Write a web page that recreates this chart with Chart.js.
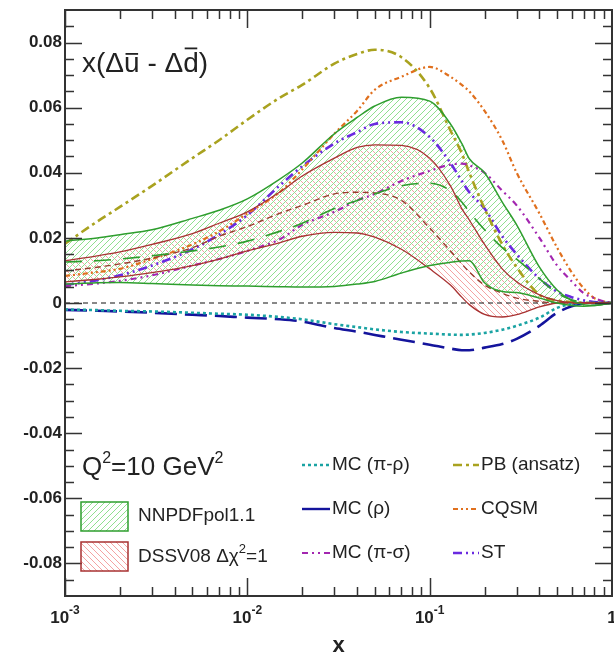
<!DOCTYPE html>
<html><head><meta charset="utf-8">
<script src="https://cdn.jsdelivr.net/npm/chart.js@4/dist/chart.umd.min.js"></script>
<style>html,body{margin:0;padding:0;background:#fff}canvas{display:block}</style>
</head><body>
<canvas id="c" width="614" height="655"></canvas>
<script>
// ---- data (x = Bjorken x, y = x(Δū - Δd̄)) ----
const xValues     = [0.001,0.0015,0.002,0.003,0.005,0.007,0.01,0.015,0.02,0.03,0.04,0.05,0.07,0.1,0.13,0.15,0.165,0.2,0.25,0.3,0.4,0.5,0.6,0.7,0.8,0.9,1.0];
const nnpdfUpper  = [0.019,0.020,0.021,0.0225,0.026,0.0285,0.032,0.038,0.043,0.052,0.057,0.0605,0.0632,0.062,0.055,0.049,0.0443,0.040,0.031,0.024,0.011,0.004,0.0008,-0.0005,-0.0008,-0.0004,0];
const nnpdfLower  = [0.0058,0.0062,0.0063,0.0060,0.0055,0.0053,0.0052,0.0050,0.0049,0.0051,0.0058,0.0066,0.0092,0.0115,0.0125,0.0129,0.0130,0.0062,0.0035,0.0032,0.0015,0.0,-0.0008,-0.0010,-0.0008,-0.0004,0];
const nnpdfCentral= [0.0126,0.013,0.0135,0.0145,0.016,0.0172,0.019,0.022,0.0245,0.029,0.0315,0.0335,0.036,0.0368,0.0345,0.031,0.028,0.0225,0.017,0.0135,0.0075,0.003,0.001,0.0002,0,0,0];
const dssvUpper   = [0.013,0.0145,0.0157,0.018,0.0213,0.0245,0.028,0.034,0.039,0.0445,0.0478,0.0486,0.0484,0.0445,0.036,0.029,0.0255,0.018,0.0105,0.0065,0.0025,0.0007,0.0001,0,0,0,0];
const dssvLower   = [0.0065,0.0073,0.008,0.0093,0.0115,0.0135,0.016,0.0185,0.0205,0.0217,0.0215,0.0202,0.0165,0.0105,0.0055,0.0018,-0.0005,-0.0035,-0.0043,-0.0036,-0.0012,0,0.0002,0.0001,0,0,0];
const dssvCentral = [0.0098,0.011,0.012,0.0138,0.017,0.0205,0.0235,0.0275,0.030,0.0335,0.034,0.0338,0.0315,0.023,0.016,0.012,0.0095,0.0055,0.003,0.0015,0.0005,0,0,0,0,0,0];
const mcPiRho     = [-0.002,-0.0022,-0.0024,-0.0026,-0.003,-0.0033,-0.0036,-0.0043,-0.005,-0.0065,-0.0074,-0.0081,-0.0089,-0.0094,-0.0097,-0.0098,-0.0097,-0.0092,-0.0082,-0.007,-0.0045,-0.0015,-0.0003,0,0,0,0];
const mcRho       = [-0.0021,-0.0024,-0.0026,-0.003,-0.0036,-0.004,-0.0045,-0.005,-0.0057,-0.0077,-0.0088,-0.0098,-0.0113,-0.0128,-0.014,-0.0145,-0.0145,-0.0137,-0.0126,-0.011,-0.007,-0.003,-0.001,-0.0001,0,0,0];
const mcPiSigma   = [0.0052,0.006,0.0068,0.0085,0.0115,0.0135,0.016,0.0195,0.024,0.028,0.0315,0.0335,0.0375,0.0406,0.0425,0.0428,0.0423,0.040,0.0345,0.030,0.020,0.0115,0.0067,0.003,0.0015,0.0005,0];
const pbAnsatz    = [0.0182,0.025,0.0295,0.036,0.0445,0.050,0.0563,0.063,0.067,0.0735,0.0765,0.0778,0.0755,0.066,0.053,0.046,0.040,0.029,0.018,0.011,0.0025,0.0008,0.0003,0.0001,0,0,0];
const cqsm        = [0.0083,0.0095,0.0105,0.0135,0.018,0.022,0.0275,0.034,0.041,0.052,0.059,0.0655,0.0695,0.0725,0.0695,0.067,0.065,0.059,0.050,0.040,0.0275,0.017,0.0095,0.0045,0.0015,0.0005,0];
const stModel     = [0.0055,0.007,0.0085,0.0115,0.0165,0.021,0.027,0.036,0.042,0.049,0.0525,0.055,0.0555,0.051,0.043,0.0375,0.034,0.029,0.0205,0.015,0.0075,0.0035,0.0018,0.0008,0.0003,0,0];

const yTickValues = [-0.08,-0.06,-0.04,-0.02,0,0.02,0.04,0.06,0.08];
const yTickLabels = ['-0.08','-0.06','-0.04','-0.02','0','0.02','0.04','0.06','0.08'];
const xTickValues = [0.001,0.01,0.1,1];
const xTickBase   = ['10','10','10','1'];
const xTickExp    = ['-3','-2','-1',''];

const FONT = "'Liberation Sans', Arial, Helvetica, sans-serif";
const ctx0 = document.getElementById('c').getContext('2d');

function hatch(color, dir) {
  const s = 6, c = document.createElement('canvas');
  c.width = s; c.height = s;
  const g = c.getContext('2d');
  g.fillStyle = color;
  for (let i = 0; i < s; i++) {
    const yy = dir > 0 ? (s - i) % s : i;   // "/" (offset 1) or "\"
    g.fillRect(i, yy, 1, 1);
  }
  return ctx0.createPattern(c, 'repeat');
}
const greenHatch = hatch('#8fe08f', 1);
const redHatch = hatch('#f4a3a3', -1);

const GREEN = '#2e9e2e', DRED = '#a83232';
function ds(label, arr, color, dash, width, extra) {
  return Object.assign({
    label, data: xValues.map((x, i) => ({x, y: arr[i]})),
    borderColor: color, borderDash: dash, borderWidth: width,
    pointRadius: 0, fill: false, cubicInterpolationMode: 'monotone'
  }, extra || {});
}
const datasets = [
  ds('NNPDFpol1.1', nnpdfUpper, GREEN, [], 1.5, {fill: '+1', backgroundColor: greenHatch}),
  ds('NNPDF lower', nnpdfLower, GREEN, [], 1.5),
  ds('DSSV08 Δχ²=1', dssvUpper, DRED, [], 1.3, {fill: '+1', backgroundColor: redHatch}),
  ds('DSSV lower', dssvLower, DRED, [], 1.3),
  ds('NNPDF central', nnpdfCentral, GREEN, [17, 12], 1.6),
  ds('DSSV central', dssvCentral, '#9a3b2e', [6, 4], 1.4),
  ds('MC (π-ρ)', mcPiRho, '#1aa3a3', [3, 3], 2.6),
  ds('MC (ρ)', mcRho, '#14149c', [22, 8], 2.6),
  ds('MC (π-σ)', mcPiSigma, '#a326b0', [6, 4, 2, 4, 2, 4], 2.2),
  ds('PB (ansatz)', pbAnsatz, '#a9a21f', [9, 4, 3, 4], 2.6),
  ds('CQSM', cqsm, '#e0701e', [5, 3, 2, 3, 2, 3], 2.2),
  ds('ST', stModel, '#6a2ae0', [9, 4, 2, 4, 2, 4], 2.6)
];

const deco = {
  id: 'deco',
  beforeDatasetsDraw(chart) {
    const {ctx, chartArea: a, scales: {y}} = chart;
    const y0 = y.getPixelForValue(0);
    ctx.save();
    ctx.strokeStyle = '#111'; ctx.lineWidth = 1; ctx.setLineDash([5, 4]);
    ctx.beginPath(); ctx.moveTo(a.left, y0); ctx.lineTo(a.right, y0); ctx.stroke();
    ctx.restore();
  },
  afterDraw(chart) {
    const {ctx, chartArea: a, scales: {x, y}} = chart;
    ctx.save();
    ctx.strokeStyle = '#333'; ctx.lineWidth = 2;
    ctx.strokeRect(a.left, a.top, a.right - a.left, a.bottom - a.top);
    ctx.lineWidth = 1.5; ctx.beginPath();
    for (let k = -17; k <= 17; k++) {
      const py = Math.round(y.getPixelForValue(k * 0.005)) + 0.5;
      const len = (k % 4 === 0) ? 17 : 9;
      ctx.moveTo(a.left, py); ctx.lineTo(a.left + len, py);
      ctx.moveTo(a.right, py); ctx.lineTo(a.right - len, py);
    }
    for (let d = -3; d <= -1; d++) {
      for (let m = 1; m <= 9; m++) {
        const px = Math.round(x.getPixelForValue(m * Math.pow(10, d))) + 0.5;
        const len = (m === 1) ? 18 : 9;
        ctx.moveTo(px, a.bottom); ctx.lineTo(px, a.bottom - len);
        ctx.moveTo(px, a.top); ctx.lineTo(px, a.top + len);
      }
    }
    ctx.stroke();
    ctx.fillStyle = '#222';
    ctx.font = `bold 17px ${FONT}`; ctx.textAlign = 'right'; ctx.textBaseline = 'middle';
    yTickValues.forEach((v, i) => ctx.fillText(yTickLabels[i], 62, y.getPixelForValue(v)));
    ctx.textAlign = 'left'; ctx.textBaseline = 'alphabetic';
    xTickValues.forEach((v, i) => {
      ctx.font = `bold 17px ${FONT}`;
      const wb = ctx.measureText(xTickBase[i]).width;
      ctx.font = `bold 12px ${FONT}`;
      const we = xTickExp[i] ? ctx.measureText(xTickExp[i]).width : 0;
      const px = x.getPixelForValue(v);
      const sx = px - (wb + we) / 2;
      ctx.font = `bold 17px ${FONT}`;
      ctx.fillText(xTickBase[i], sx, 623);
      if (xTickExp[i]) { ctx.font = `bold 12px ${FONT}`; ctx.fillText(xTickExp[i], sx + wb, 614); }
    });
    ctx.font = `bold 22px ${FONT}`; ctx.textAlign = 'center';
    ctx.fillText('x', (a.left + a.right) / 2, 652);
    ctx.textAlign = 'left';
    ctx.font = `28px ${FONT}`;
    let tx = 82; const ty = 72;
    [['x(Δ', 0], ['u', 1], [' - Δ', 0], ['d', 2], [')', 0]].forEach(([t, bar]) => {
      const w = ctx.measureText(t).width;
      ctx.fillText(t, tx, ty);
      if (bar) ctx.fillRect(tx + 1.5, bar === 1 ? ty - 19 : ty - 24.5, w - 3, 1.8);
      tx += w;
    });
    let qx = 82; const qy = 475;
    const seg = (t, size, dy) => { ctx.font = `${size}px ${FONT}`; ctx.fillText(t, qx, qy + dy); qx += ctx.measureText(t).width; };
    seg('Q', 26, 0); seg('2', 16, -12); seg('=10 GeV', 26, 0); seg('2', 16, -12);
    const dsets = chart.data.datasets;
    [[0, 502], [2, 542]].forEach(([idx, by]) => {
      ctx.fillStyle = dsets[idx].backgroundColor; ctx.fillRect(81, by, 47, 29);
      ctx.strokeStyle = dsets[idx].borderColor; ctx.lineWidth = 1.5; ctx.setLineDash([]);
      ctx.strokeRect(81, by, 47, 29);
    });
    ctx.fillStyle = '#222'; ctx.textBaseline = 'middle';
    ctx.font = `19px ${FONT}`;
    ctx.fillText('NNPDFpol1.1', 138, 516);
    {
      let lx = 138; const ly = 557;
      ctx.font = `19px ${FONT}`; ctx.fillText('DSSV08 Δχ', lx, ly); lx += ctx.measureText('DSSV08 Δχ').width;
      ctx.font = `13px ${FONT}`; ctx.fillText('2', lx, ly - 8); lx += ctx.measureText('2').width;
      ctx.font = `19px ${FONT}`; ctx.fillText('=1', lx, ly);
    }
    const entries = [[6, 302, 330, 465, null], [7, 302, 330, 509, []], [8, 302, 330, 553, null],
                     [9, 453, 479, 465, null], [10, 453, 479, 509, null], [11, 453, 479, 553, null]];
    entries.forEach(([idx, x0, x1, ly, dash]) => {
      const d = dsets[idx];
      ctx.strokeStyle = d.borderColor; ctx.lineWidth = Math.min(d.borderWidth, 2.4);
      ctx.setLineDash(dash || d.borderDash);
      ctx.beginPath(); ctx.moveTo(x0, ly); ctx.lineTo(x1, ly); ctx.stroke();
      ctx.setLineDash([]);
      ctx.fillStyle = '#222'; ctx.font = `19px ${FONT}`;
      ctx.fillText(d.label, x1 + 2, ly);
    });
    ctx.restore();
  }
};

new Chart(ctx0, {
  type: 'line',
  data: {datasets},
  options: {
    responsive: false, animation: false, devicePixelRatio: 1,
    layout: {padding: {left: 65, top: 10, right: 2, bottom: 59}},
    scales: {
      x: {type: 'logarithmic', min: 0.001, max: 1, display: false},
      y: {type: 'linear', min: -0.09, max: 0.09, display: false}
    },
    plugins: {legend: {display: false}, tooltip: {enabled: false}, filler: {drawTime: 'beforeDatasetsDraw'}}
  },
  plugins: [deco]
});
</script>
</body></html>
